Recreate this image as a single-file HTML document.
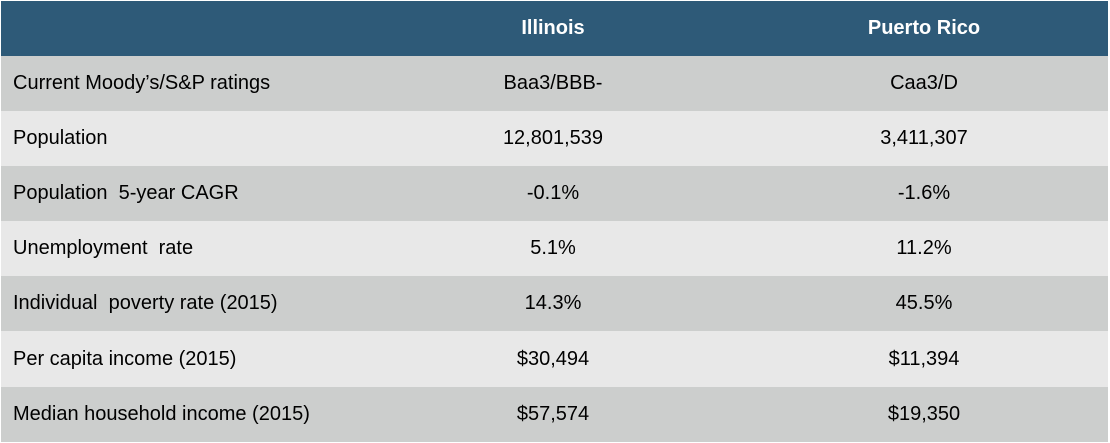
<!DOCTYPE html>
<html><head><meta charset="utf-8"><style>
body{margin:0;width:1110px;height:443px;background:#fff;font-family:"Liberation Sans",sans-serif;overflow:hidden}
.t{position:absolute;left:1px;top:1px;width:1107px}
.r{position:relative;height:55.1px;display:flex;align-items:center;font-size:20px;color:#000}
.h{background:#2E5A78;color:#fff;font-weight:bold;height:55px}
.d{background:#CCCECD}.l{background:#E8E8E8}
.c0{position:absolute;left:12px}
.c1{position:absolute;left:452px;width:200px;text-align:center}
.c2{position:absolute;left:823px;width:200px;text-align:center}
</style></head><body>
<div class="t">
<div class="r h"><span class="c1">Illinois</span><span class="c2">Puerto Rico</span></div>
<div class="r d"><span class="c0">Current Moody’s/S&amp;P ratings</span><span class="c1">Baa3/BBB-</span><span class="c2">Caa3/D</span></div>
<div class="r l"><span class="c0">Population</span><span class="c1">12,801,539</span><span class="c2">3,411,307</span></div>
<div class="r d"><span class="c0">Population&nbsp; 5-year CAGR</span><span class="c1">-0.1%</span><span class="c2">-1.6%</span></div>
<div class="r l"><span class="c0">Unemployment&nbsp; rate</span><span class="c1">5.1%</span><span class="c2">11.2%</span></div>
<div class="r d"><span class="c0">Individual&nbsp; poverty rate (2015)</span><span class="c1">14.3%</span><span class="c2">45.5%</span></div>
<div class="r l"><span class="c0">Per capita income (2015)</span><span class="c1">$30,494</span><span class="c2">$11,394</span></div>
<div class="r d"><span class="c0">Median household income (2015)</span><span class="c1">$57,574</span><span class="c2">$19,350</span></div>
</div>
</body></html>
